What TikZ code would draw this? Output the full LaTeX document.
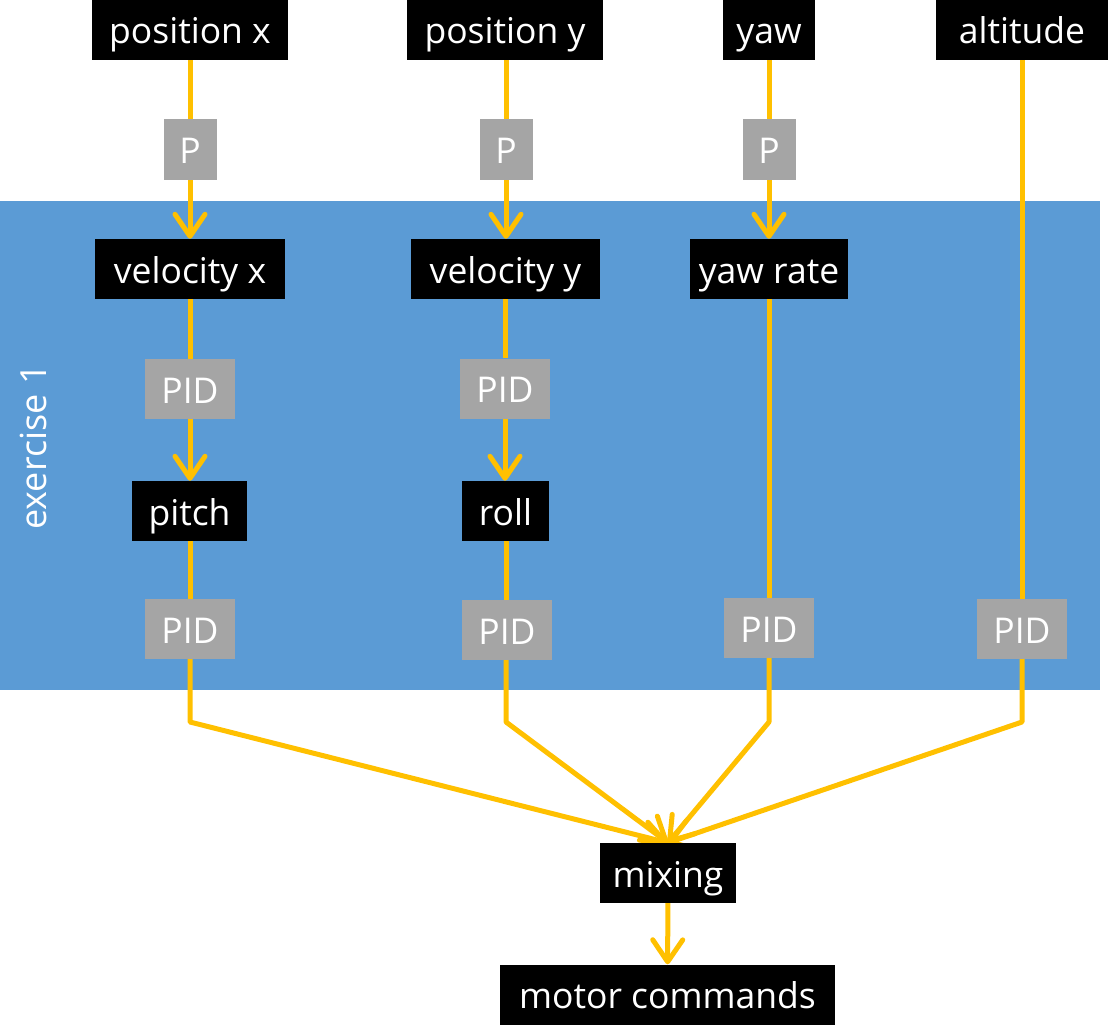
\documentclass[tikz,border=0pt]{standalone}
\usepackage{fontspec}
\setmainfont{Open Sans}
\usetikzlibrary{arrows.meta}
\definecolor{band}{HTML}{5B9BD5}
\definecolor{flowc}{HTML}{FFC000}
\definecolor{ctrl}{HTML}{A5A5A5}
\pgfdeclarelayer{bgband}
\pgfdeclarelayer{lines}
\pgfsetlayers{bgband,lines,main}
\tikzset{
  boxfont/.style={font=\fontsize{35.5}{40}\selectfont,text height=30pt,text depth=2pt},
  sig/.style={fill=black,text=white,inner sep=0pt,boxfont,minimum height=60pt},
  ctl/.style={fill=ctrl,text=white,inner sep=0pt,boxfont,minimum height=60pt},
  flow/.style={draw=flowc,line width=5pt,line join=round},
  flowarr/.style={flow,-{Straight Barb[length=22pt,width=30pt,line cap=round,line join=round]}}
}
\begin{document}
\begin{tikzpicture}[x=1pt,y=-1pt]
\useasboundingbox (0,0) rectangle (1110,1025);
% nodes
\node[sig,minimum width=196pt] (posx) at (190,30) {position x};
\node[sig,minimum width=196pt] (posy) at (505,30) {position y};
\node[sig,minimum width=92pt] (yaw) at (769,30) {yaw};
\node[sig,minimum width=172pt] (alt) at (1022,30) {altitude};
\node[ctl,minimum width=53pt,minimum height=61pt] (px) at (190,149.5) {P};
\node[ctl,minimum width=53pt,minimum height=61pt] (py) at (506,149.5) {P};
\node[ctl,minimum width=53pt,minimum height=61pt] (pyaw) at (769,149.5) {P};
\node[sig,minimum width=190pt] (velx) at (190,269) {velocity x};
\node[sig,minimum width=189pt] (vely) at (505.5,269) {velocity y};
\node[sig,minimum width=158pt] (yawr) at (769,269) {yaw rate};
\node[ctl,minimum width=90pt] (pidvx) at (190,389) {PID};
\node[ctl,minimum width=90pt] (pidvy) at (505,388.5) {PID};
\node[sig,minimum width=115pt] (pitch) at (189.5,511) {pitch};
\node[sig,minimum width=87pt] (roll) at (505.5,511) {roll};
\node[ctl,minimum width=90pt] (pidp) at (190,629) {PID};
\node[ctl,minimum width=90pt] (pidr) at (507,630) {PID};
\node[ctl,minimum width=90pt] (pidy) at (769,628) {PID};
\node[ctl,minimum width=90pt] (pida) at (1022,629) {PID};
\node[sig,minimum width=136pt] (mix) at (668,873) {mixing};
\node[sig,minimum width=335pt] (motor) at (667.5,994.5) {motor commands};
\node[text=white,rotate=90,font=\fontsize{36}{40}\selectfont] (ex) at (33,447) {exercise 1};
\coordinate (b1) at (190,722);
\coordinate (b2) at (506,722);
\coordinate (b3) at (769,722);
\coordinate (b4) at (1022,722);
\begin{pgfonlayer}{bgband}
\fill[band] (0,201) rectangle (1100,690);
\end{pgfonlayer}
\begin{pgfonlayer}{lines}
\draw[flow] (posx) -- (px);
\draw[flowarr] (px) -- (velx);
\draw[flow] (posy.south -| py) -- (py);
\draw[flowarr] (py) -- (vely.north -| py);
\draw[flow] (yaw) -- (pyaw);
\draw[flowarr] (pyaw) -- (yawr);
\draw[flow] (velx) -- (pidvx);
\draw[flowarr] (pidvx) -- (pitch.north -| pidvx);
\draw[flow] (vely.south -| pidvy) -- (pidvy);
\draw[flowarr] (pidvy) -- (roll.north -| pidvy);
\draw[flow] (pitch.south -| pidp) -- (pidp);
\draw[flow] (roll.south -| b2) -- (pidr.north -| b2);
\draw[flow] (yawr) -- (pidy);
\draw[flow] (alt) -- (pida);
\draw[flowarr] (pidp) -- (b1) -- (mix.north);
\draw[flowarr] (pidr.south -| b2) -- (b2) -- (mix.north);
\draw[flowarr] (pidy) -- (b3) -- (mix.north);
\draw[flowarr] (pida) -- (b4) -- (mix.north);
\draw[flowarr] (mix) -- (motor);
\end{pgfonlayer}
\end{tikzpicture}
\end{document}
